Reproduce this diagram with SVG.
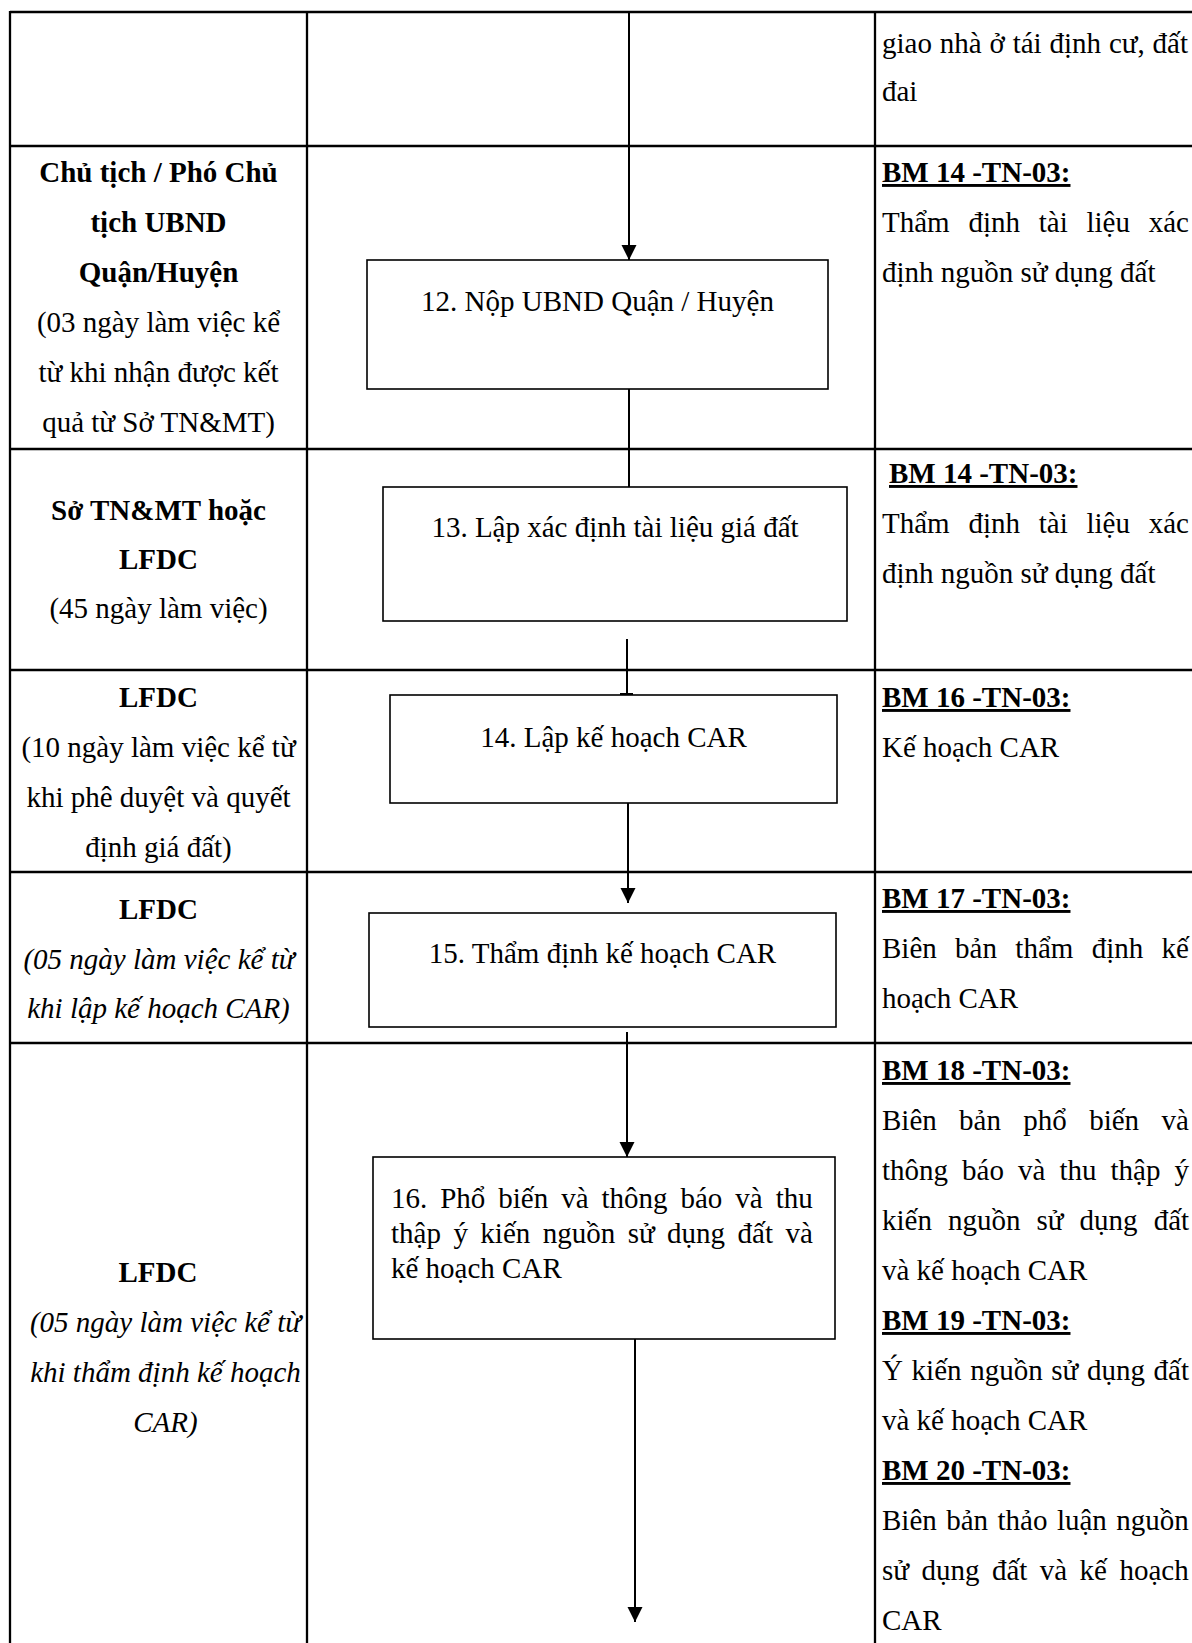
<svg xmlns="http://www.w3.org/2000/svg" width="1192" height="1643" viewBox="0 0 1192 1643">
<style>
.tbl{stroke:#000;stroke-width:2.3;fill:none}
.box{fill:#fff;stroke:#000;stroke-width:1.6}
.conn{stroke:#000;stroke-width:2;fill:none}
text{font-family:"Liberation Serif","Times New Roman",serif;font-size:29px;fill:#000}
.b{font-weight:bold}
.i{font-style:italic}
.c{text-anchor:middle}
.u{text-decoration:underline}
</style>
<defs>
<marker id="ah" markerUnits="userSpaceOnUse" viewBox="0 0 16 16" markerWidth="15" markerHeight="16" refX="16" refY="8" orient="auto">
<path d="M0,0 L16,8 L0,16 z" fill="#000"/>
</marker>
</defs>
<rect width="1192" height="1643" fill="#fff"/>
<g id="table">
<line class="tbl" x1="10" y1="12" x2="1192" y2="12"/>
<line class="tbl" x1="10" y1="146" x2="1192" y2="146"/>
<line class="tbl" x1="10" y1="449" x2="1192" y2="449"/>
<line class="tbl" x1="10" y1="670" x2="1192" y2="670"/>
<line class="tbl" x1="10" y1="872" x2="1192" y2="872"/>
<line class="tbl" x1="10" y1="1043" x2="1192" y2="1043"/>
<line class="tbl" x1="10" y1="11" x2="10" y2="1643"/>
<line class="tbl" x1="307" y1="11" x2="307" y2="1643"/>
<line class="tbl" x1="875" y1="11" x2="875" y2="1643"/>
</g>
<g id="connectors">
<line class="conn" x1="629" y1="13" x2="629" y2="260" marker-end="url(#ah)"/>
<line class="conn" x1="629" y1="389" x2="629" y2="487"/>
<line class="conn" x1="627" y1="639" x2="627" y2="695"/>
<line class="conn" x1="620" y1="694" x2="633" y2="694"/>
<line class="conn" x1="628" y1="803" x2="628" y2="903" marker-end="url(#ah)"/>
<line class="conn" x1="627" y1="1032" x2="627" y2="1157" marker-end="url(#ah)"/>
<line class="conn" x1="635" y1="1339" x2="635" y2="1622" marker-end="url(#ah)"/>
</g>
<g id="node12">
<rect class="box" x="367" y="260" width="461" height="129"/>
<text class="c" x="597.5" y="311">12. Nộp UBND Quận / Huyện</text>
</g>
<g id="node13">
<rect class="box" x="383" y="487" width="464" height="134"/>
<text class="c" x="615" y="537">13. Lập xác định tài liệu giá đất</text>
</g>
<g id="node14">
<rect class="box" x="390" y="695" width="447" height="108"/>
<text class="c" x="613.5" y="747">14. Lập kế hoạch CAR</text>
</g>
<g id="node15">
<rect class="box" x="369" y="913" width="467" height="114"/>
<text class="c" x="602.5" y="963">15. Thẩm định kế hoạch CAR</text>
</g>
<g id="node16">
<rect class="box" x="373" y="1157" width="462" height="182"/>
<text x="391" y="1208" word-spacing="5.7">16. Phổ biến và thông báo và thu</text>
<text x="391" y="1243" word-spacing="5.2">thập ý kiến nguồn sử dụng đất và</text>
<text x="391" y="1278">kế hoạch CAR</text>
</g>
<g id="lane-row1">
<text x="882" y="53" word-spacing="0.6">giao nhà ở tái định cư, đất</text>
<text x="882" y="101">đai</text>
</g>
<g id="lane-row2">
<text class="b c" x="158.5" y="182">Chủ tịch / Phó Chủ</text>
<text class="b c" x="158.5" y="232">tịch UBND</text>
<text class="b c" x="158.5" y="282">Quận/Huyện</text>
<text class="c" x="158.5" y="332">(03 ngày làm việc kể</text>
<text class="c" x="158.5" y="382">từ khi nhận được kết</text>
<text class="c" x="158.5" y="432">quả từ Sở TN&amp;MT)</text>
<text class="b u" x="882" y="182">BM 14 -TN-03:</text>
<text x="882" y="232" word-spacing="11.5">Thẩm định tài liệu xác</text>
<text x="882" y="282">định nguồn sử dụng đất</text>
</g>
<g id="lane-row3">
<text class="b c" x="158.5" y="520">Sở TN&amp;MT hoặc</text>
<text class="b c" x="158.5" y="569">LFDC</text>
<text class="c" x="158.5" y="618">(45 ngày làm việc)</text>
<text class="b u" x="889" y="483">BM 14 -TN-03:</text>
<text x="882" y="533" word-spacing="11.5">Thẩm định tài liệu xác</text>
<text x="882" y="583">định nguồn sử dụng đất</text>
</g>
<g id="lane-row4">
<text class="b c" x="158.5" y="707">LFDC</text>
<text class="c" x="158.5" y="757">(10 ngày làm việc kể từ</text>
<text class="c" x="158.5" y="807">khi phê duyệt và quyết</text>
<text class="c" x="158.5" y="857">định giá đất)</text>
<text class="b u" x="882" y="707">BM 16 -TN-03:</text>
<text x="882" y="757">Kế hoạch CAR</text>
</g>
<g id="lane-row5">
<text class="b c" x="158.5" y="919">LFDC</text>
<text class="i c" x="159" y="969">(05 ngày làm việc kể từ</text>
<text class="i c" x="158.5" y="1018">khi lập kế hoạch CAR)</text>
<text class="b u" x="882" y="908">BM 17 -TN-03:</text>
<text x="882" y="958" word-spacing="11.1">Biên bản thẩm định kế</text>
<text x="882" y="1008">hoạch CAR</text>
</g>
<g id="lane-row6">
<text class="b c" x="158" y="1282">LFDC</text>
<text class="i c" x="165.5" y="1332">(05 ngày làm việc kể từ</text>
<text class="i c" x="165.5" y="1382">khi thẩm định kế hoạch</text>
<text class="i c" x="165.5" y="1432">CAR)</text>
<text class="b u" x="882" y="1080">BM 18 -TN-03:</text>
<text x="882" y="1130" word-spacing="15.1">Biên bản phổ biến và</text>
<text x="882" y="1180" word-spacing="6.8">thông báo và thu thập ý</text>
<text x="882" y="1230" word-spacing="8.8">kiến nguồn sử dụng đất</text>
<text x="882" y="1280">và kế hoạch CAR</text>
<text class="b u" x="882" y="1330">BM 19 -TN-03:</text>
<text x="882" y="1380" word-spacing="1.4">Ý kiến nguồn sử dụng đất</text>
<text x="882" y="1430">và kế hoạch CAR</text>
<text class="b u" x="882" y="1480">BM 20 -TN-03:</text>
<text x="882" y="1530" word-spacing="2.2">Biên bản thảo luận nguồn</text>
<text x="882" y="1580" word-spacing="5.2">sử dụng đất và kế hoạch</text>
<text x="882" y="1630">CAR</text>
</g>
</svg>
